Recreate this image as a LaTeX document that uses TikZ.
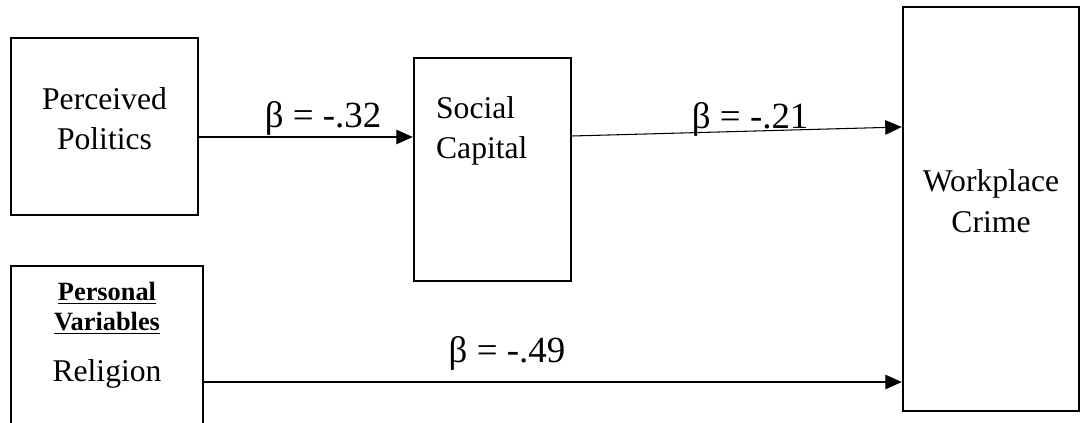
\documentclass[tikz,border=0pt]{standalone}
\usepackage{fontspec}
\setmainfont{Liberation Serif}
\usetikzlibrary{arrows.meta,positioning}

\begin{document}
\begin{tikzpicture}[>={Triangle[length=0.33cm,width=0.29cm]},
  box/.style={draw,line width=1.4pt,inner sep=0pt},
  txt/.style={font=\fontsize{18}{23}\selectfont,align=center,inner sep=0pt},
  head/.style={font=\fontsize{15}{17}\selectfont\bfseries,align=center,inner sep=0pt},
  coef/.style={font=\fontsize{21}{24}\selectfont,inner sep=0pt,anchor=base},
  path/.style={->,line width=0.6pt}]
\useasboundingbox (0,0) rectangle (21.62,8.46);
\clip (0,0) rectangle (21.62,8.46);
% boxes
\node[box,minimum width=3.74cm,minimum height=3.54cm] (pp) at (2.09,5.93) {};
\node[txt] (pptxt) at ([yshift=0.16cm]pp.center) {Perceived\\Politics};
\node[box,minimum width=3.14cm,minimum height=4.46cm] (sc) at (9.85,5.07) {};
\node[txt,align=left,anchor=north west] (sctxt) at ([xshift=0.46cm,yshift=-0.78cm]sc.north west) {Social\\Capital};
\node[box,minimum width=3.52cm,minimum height=8.08cm] (wc) at (19.82,4.28) {};
\node[txt] (wctxt) at ([yshift=0.16cm]wc.center) {Workplace\\Crime};
\node[box,minimum width=3.84cm,minimum height=4.64cm] (pv) at (2.14,0.82) {};
\node[head,anchor=north] (pvhead) at ([yshift=-0.34cm]pv.north) {\underline{Personal}\\\underline{Variables}};
\node[txt,anchor=base] (rel) at (pv.center) {Religion};
% paths
\coordinate (a1) at ([yshift=-0.21cm]pp.east);
\draw[path] (a1) -- (a1 -| sc.west) node[coef,pos=0.58,yshift=0.18cm] {β = -.32};
\draw[path] ([yshift=0.67cm]sc.east) -- ([yshift=1.64cm]wc.west) node[coef,pos=0.54,yshift=0.06cm] {β = -.21};
\draw[path] (pv.east) -- (pv.east -| wc.west) node[coef,pos=0.434,yshift=0.38cm] {β = -.49};
\end{tikzpicture}
\end{document}
